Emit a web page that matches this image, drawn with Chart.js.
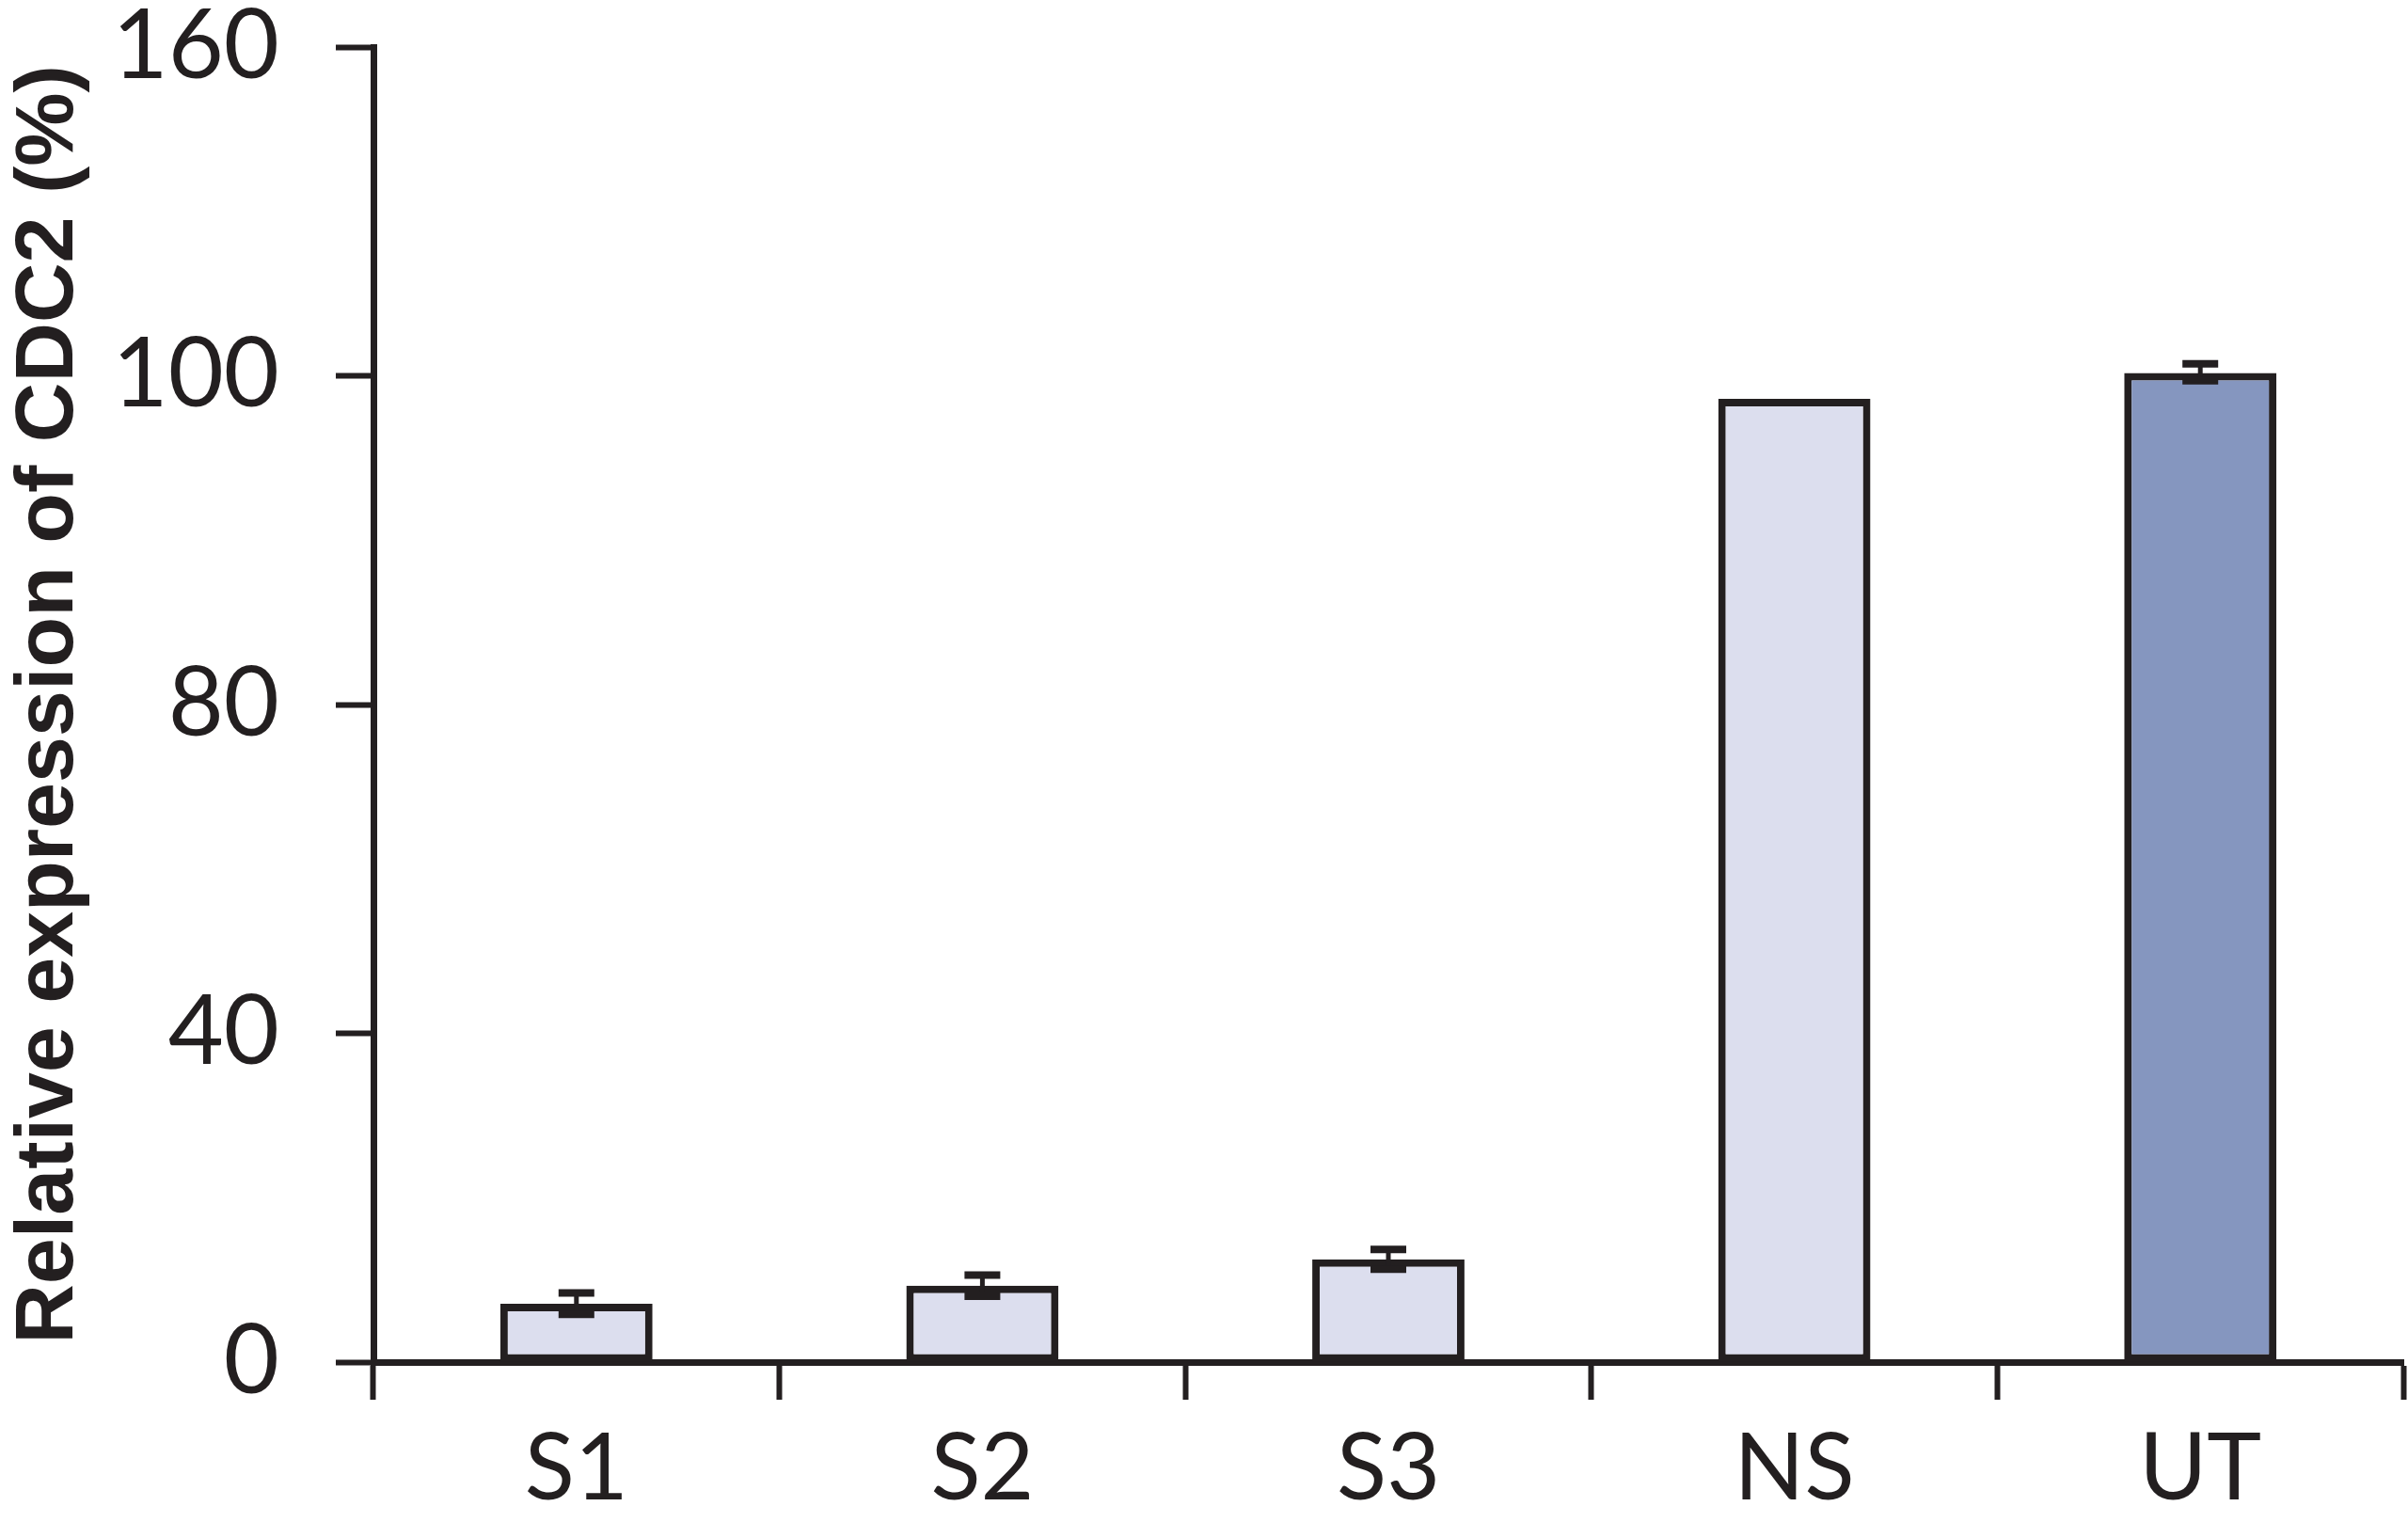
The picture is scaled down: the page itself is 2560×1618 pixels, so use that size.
<!DOCTYPE html>
<html>
<head>
<meta charset="utf-8">
<script src="https://cdn.jsdelivr.net/npm/chart.js@4"></script>
<style>
  html, body { margin: 0; padding: 0; background: #fff; }
  #wrap { width: 2560px; height: 1618px; position: relative; }
</style>
</head>
<body>
<div id="wrap"><canvas id="cdcChart"></canvas></div>
<script>
const categories = ['S1', 'S2', 'S3', 'NS', 'UT'];
const expression = [7.1, 9.3, 12.5, 98.6, 100.5];
const errUp = [1.3, 1.3, 1.2, 0, 1.7];
const errDown = [1.3, 1.3, 1.2, 0, 0.8];
const tickValues = [0, 40, 80, 100, 160];   // y axis is broken into equal-height segments
const barColors = ['#DCDEEE', '#DCDEEE', '#DCDEEE', '#DCDEEE', '#8596BF'];

const ink = '#231F20';

// map a real value onto the segmented axis (one unit per tick interval)
function toAxis(v) {
    for (let i = 1; i < tickValues.length; i++) {
        if (v <= tickValues[i]) {
            const a = tickValues[i - 1], b = tickValues[i];
            return (i - 1) + (v - a) / (b - a);
        }
    }
    return tickValues.length - 1;
}

const errorBars = {
    id: 'errorBars',
    afterDatasetsDraw(chart) {
        const { ctx } = chart;
        const y = chart.scales.y;
        const meta = chart.getDatasetMeta(0);
        ctx.save();
        ctx.strokeStyle = ink;
        meta.data.forEach((bar, i) => {
            if (!errUp[i] && !errDown[i]) return;
            const top = y.getPixelForValue(toAxis(expression[i] + errUp[i]));
            const bot = y.getPixelForValue(toAxis(expression[i] - errDown[i]));
            ctx.lineWidth = 5;
            ctx.beginPath();
            ctx.moveTo(bar.x, top);
            ctx.lineTo(bar.x, bot);
            ctx.stroke();
            ctx.lineWidth = 8;
            ctx.beginPath();
            ctx.moveTo(bar.x - 19, top);
            ctx.lineTo(bar.x + 19, top);
            ctx.moveTo(bar.x - 19, bot);
            ctx.lineTo(bar.x + 19, bot);
            ctx.stroke();
        });
        ctx.restore();
    }
};

const ctx = document.getElementById('cdcChart').getContext('2d');

new Chart(ctx, {
    type: 'bar',
    data: {
        labels: categories,
        datasets: [{
            data: expression.map(toAxis),
            backgroundColor: barColors,
            borderColor: ink,
            borderWidth: 8,
            borderSkipped: false,
            barPercentage: 0.375,
            categoryPercentage: 1
        }]
    },
    options: {
        responsive: true,
        maintainAspectRatio: false,
        animation: false,
        layout: { padding: { top: 50, right: 5, left: 0, bottom: 0 } },
        plugins: {
            legend: { display: false },
            tooltip: { enabled: false }
        },
        scales: {
            x: {
                offset: true,
                grid: {
                    offset: true,
                    drawOnChartArea: false,
                    tickLength: 40,
                    tickWidth: 6,
                    tickColor: ink
                },
                border: { display: true, color: ink, width: 7 },
                ticks: {
                    color: ink,
                    padding: 16,
                    font: { family: 'Lato', weight: 400, size: 98 }
                },
                afterFit(scale) {
                    scale.height = 170;
                    scale.paddingLeft = 0;
                    scale.paddingRight = 0;
                }
            },
            y: {
                min: 0,
                max: tickValues.length - 1,
                grid: {
                    drawOnChartArea: false,
                    tickLength: 40,
                    tickWidth: 6,
                    tickColor: ink
                },
                border: { display: true, color: ink, width: 7 },
                ticks: {
                    stepSize: 1,
                    color: ink,
                    padding: 60,
                    font: { family: 'Lato', weight: 400, size: 102 },
                    callback: v => tickValues[v]
                },
                title: {
                    display: true,
                    text: 'Relative expression of CDC2 (%)',
                    color: ink,
                    padding: { top: 0, bottom: 0 },
                    font: { family: 'Liberation Sans', weight: 'bold', size: 88 }
                },
                afterFit(scale) {
                    scale.width = 397;
                    scale.paddingTop = 0;
                    scale.paddingBottom = 0;
                }
            }
        }
    },
    plugins: [errorBars]
});
</script>
</body>
</html>
